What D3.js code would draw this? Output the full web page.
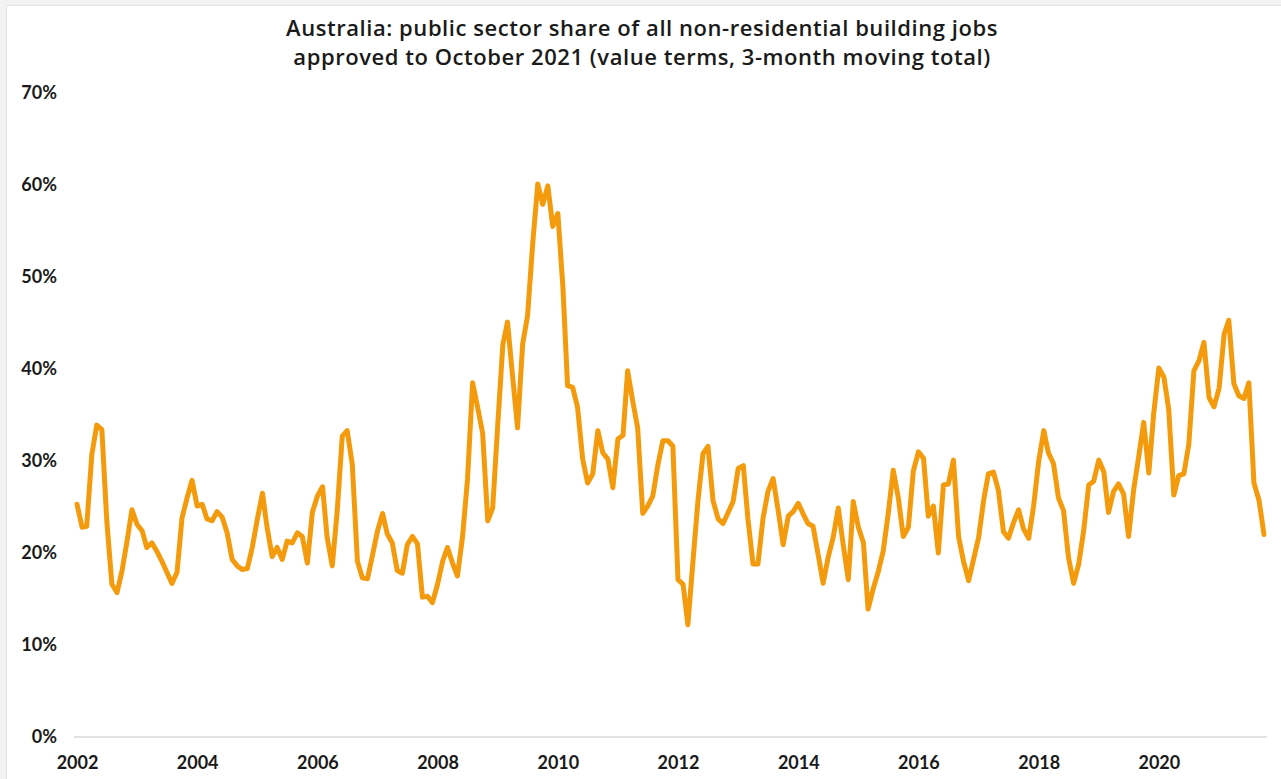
<!DOCTYPE html>
<html>
<head>
<meta charset="utf-8">
<script src="https://cdn.jsdelivr.net/npm/d3@7"></script>
<style>
  html, body { margin: 0; padding: 0; background: #f2f2f2; }
  #chart { position: absolute; left: 6px; top: 5px; width: 1275px; height: 774px;
           background: #fff; border-left: 1px solid #e2e2e2; border-top: 1px solid #e2e2e2; }
  svg text { font-family: Lato, "Open Sans", sans-serif; fill: #1a1a1a; }
</style>
</head>
<body>
<div id="chart"></div>
<script>
// monthly values, Jan 2002 .. Oct 2021 (percent)
var title = ["Australia: public sector share of all non-residential building jobs",
             "approved to October 2021 (value terms, 3-month moving total)"];
var startYear = 2002;
var shareValues = [
  25.3, 22.8, 22.9, 30.7, 33.9, 33.4, 23.5, 16.6, 15.7, 18.0, 21.3, 24.7,  // 2002
  23.1, 22.4, 20.6, 21.1, 20.2, 19.1, 17.9, 16.7, 17.9, 23.8, 26.0, 27.9,  // 2003
  25.1, 25.3, 23.7, 23.5, 24.5, 23.9, 22.2, 19.3, 18.6, 18.2, 18.3, 20.6,  // 2004
  23.7, 26.5, 22.8, 19.6, 20.6, 19.3, 21.3, 21.1, 22.2, 21.8, 18.9, 24.4,  // 2005
  26.2, 27.2, 21.7, 18.6, 24.5, 32.7, 33.3, 29.6, 19.1, 17.3, 17.2, 19.7,  // 2006
  22.4, 24.3, 22.1, 21.1, 18.1, 17.8, 20.9, 21.8, 21.0, 15.2, 15.3, 14.6,  // 2007
  16.6, 19.1, 20.6, 18.9, 17.5, 21.8, 28.0, 38.5, 35.8, 33.0, 23.5, 24.9,  // 2008
  34.0, 42.7, 45.1, 39.2, 33.6, 42.7, 45.8, 53.6, 60.1, 57.9, 59.9, 55.5,  // 2009
  56.9, 48.8, 38.2, 38.0, 35.8, 30.2, 27.6, 28.6, 33.3, 30.9, 30.2, 27.1,  // 2010
  32.4, 32.8, 39.8, 36.5, 33.6, 24.3, 25.1, 26.2, 29.6, 32.2, 32.2, 31.6,  // 2011
  17.1, 16.6, 12.2, 19.1, 25.6, 30.8, 31.6, 25.7, 23.7, 23.2, 24.4, 25.6,  // 2012
  29.2, 29.5, 23.7, 18.8, 18.8, 23.8, 26.7, 28.1, 24.6, 20.9, 24.0, 24.5,  // 2013
  25.4, 24.2, 23.2, 22.9, 19.9, 16.7, 19.5, 21.7, 24.9, 20.9, 17.1, 25.6,  // 2014
  22.8, 21.1, 13.9, 16.1, 17.9, 20.2, 24.2, 29.0, 26.0, 21.8, 22.8, 28.9,  // 2015
  31.0, 30.3, 24.0, 25.1, 20.0, 27.4, 27.5, 30.1, 21.8, 19.1, 17.0, 19.3,  // 2016
  21.7, 25.8, 28.6, 28.8, 26.8, 22.3, 21.6, 23.3, 24.7, 22.6, 21.6, 25.1,  // 2017
  30.0, 33.3, 30.9, 29.7, 26.0, 24.6, 19.5, 16.7, 18.8, 22.4, 27.4, 27.8,  // 2018
  30.1, 28.8, 24.4, 26.7, 27.5, 26.4, 21.8, 26.9, 30.5, 34.2, 28.7, 35.2,  // 2019
  40.1, 39.1, 35.6, 26.3, 28.4, 28.6, 31.8, 39.8, 40.9, 42.9, 36.9, 35.9,  // 2020
  37.9, 43.8, 45.3, 38.4, 37.1, 36.8, 38.5, 27.6, 25.7, 22.0               // 2021
];
var yearTicks = [2002, 2004, 2006, 2008, 2010, 2012, 2014, 2016, 2018, 2020];
var pctTicks = [0, 10, 20, 30, 40, 50, 60, 70];

var width = 1275, height = 774;
// offsets relative to the white panel (panel is at 6,5 on the page)
var margin = {top: 87, right: 18, bottom: 43, left: 70};

var data = shareValues.map(function(v, i) {
  return {date: new Date(startYear, i, 1), value: v};
});

var svg = d3.select("#chart")
  .append("svg")
    .attr("width", width)
    .attr("height", height);

var xScale = d3.scaleTime()
    .domain([data[0].date, data[data.length - 1].date])
    .range([margin.left, width - margin.right]);

var yScale = d3.scaleLinear()
    .domain([0, 70])
    .range([height - margin.bottom, margin.top]);

// title
svg.append("g").selectAll("text")
    .data(title)
  .enter().append("text")
    .attr("x", 635)
    .attr("y", function(d, i) { return 30 + i * 29; })
    .attr("text-anchor", "middle")
    .style("font-family", "'Open Sans', Lato, sans-serif")
    .style("font-size", "22px")
    .style("font-weight", 600)
    .style("letter-spacing", "0.55px")
    .text(function(d) { return d; });

// zero baseline
svg.append("line")
    .attr("x1", margin.left - 3)
    .attr("x2", width - margin.right + 3)
    .attr("y1", yScale(0))
    .attr("y2", yScale(0))
    .attr("stroke", "#d9d9d9")
    .attr("stroke-width", 1.5);

// y axis labels
var yAxis = d3.axisLeft(yScale)
    .tickValues(pctTicks)
    .tickSize(0)
    .tickPadding(0)
    .tickFormat(function(d) { return d + "%"; });

svg.append("g")
    .attr("transform", "translate(" + (margin.left - 20) + ",0)")
    .call(yAxis)
    .call(function(g) { g.select(".domain").remove(); })
    .selectAll("text")
      .style("font-size", "18px")
      .style("font-weight", 700)
      .attr("fill", "#1a1a1a");

// x axis labels
var xAxis = d3.axisBottom(xScale)
    .tickValues(yearTicks.map(function(y) { return new Date(y, 0, 1); }))
    .tickSize(0)
    .tickPadding(0)
    .tickFormat(d3.timeFormat("%Y"));

svg.append("g")
    .attr("transform", "translate(0," + (height - 24) + ")")
    .call(xAxis)
    .call(function(g) { g.select(".domain").remove(); })
    .selectAll("text")
      .style("font-size", "18px")
      .style("font-weight", 700)
      .attr("fill", "#1a1a1a");

// the line
var valueline = d3.line()
    .x(function(d) { return xScale(d.date); })
    .y(function(d) { return yScale(d.value); });

svg.append("path")
    .datum(data)
    .attr("fill", "none")
    .attr("stroke", "#F49B0D")
    .attr("stroke-width", 5)
    .attr("stroke-linejoin", "round")
    .attr("stroke-linecap", "round")
    .attr("d", valueline);
</script>
</body>
</html>
